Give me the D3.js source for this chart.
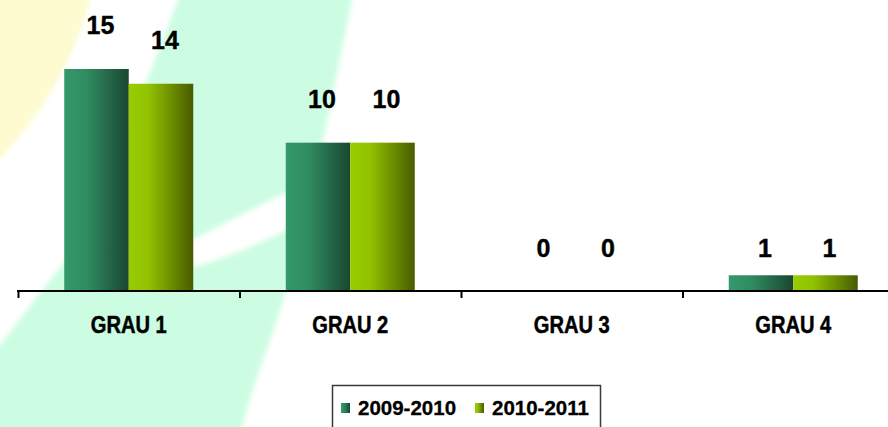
<!DOCTYPE html>
<html><head><meta charset="utf-8">
<script src="https://cdn.jsdelivr.net/npm/d3@7"></script>
<style>
html,body{margin:0;padding:0;background:#fff;}
svg{display:block;}
</style></head>
<body>
<script>
const categories = ["GRAU 1", "GRAU 2", "GRAU 3", "GRAU 4"];
const seriesNames = ["2009-2010", "2010-2011"];
const values2009 = [15, 10, 0, 1];
const values2010 = [14, 10, 0, 1];
const yMax = 20;

const W = 888, H = 427;
const svg = d3.select("body").append("svg").attr("width", W).attr("height", H);
const defs = svg.append("defs");

// gradients
const grads = [
  {id: "g0", stops: [["0%", "#34996b"], ["35%", "#2f8c61"], ["100%", "#1a4631"]]},
  {id: "g1", stops: [["0%", "#99cc00"], ["30%", "#92c300"], ["100%", "#485b00"]]}
];
grads.forEach(g => {
  const lg = defs.append("linearGradient").attr("id", g.id).attr("x1", "0").attr("x2", "1").attr("y1", "0").attr("y2", "0");
  g.stops.forEach(s => lg.append("stop").attr("offset", s[0]).attr("stop-color", s[1]));
});
defs.append("filter").attr("id", "soft").attr("x", "-10%").attr("y", "-10%").attr("width", "120%").attr("height", "120%")
  .append("feGaussianBlur").attr("stdDeviation", 2.5);

// decorative background
const bg = svg.append("g").attr("filter", "url(#soft)");
bg.append("path").attr("fill", "#fdfbcf")
  .attr("d", "M-10,-10 L92,-10 L90,0 C77,50 47,110 0,158 L-10,163 Z");
bg.append("path").attr("fill", "#ccfde2")
  .attr("d", "M178,-10 L354,-10 L352,0 C340,60 325,130 315,180 C300,240 285,300 270,340 C258,375 248,400 240,437 L-10,437 L-10,350 L0,345 C20,320 45,285 65,262 C100,200 140,100 178,0 Z");
bg.append("path").attr("fill", "#ffffff")
  .attr("d", "M345,165 C300,185 240,215 193,240 C150,255 110,250 80,240 L70,262 C120,272 160,272 193,267 C240,255 300,225 345,197 Z");

const y0 = 290, pxPerUnit = 14.733;
const y = d3.scaleLinear().domain([0, yMax]).range([y0, y0 - yMax * pxPerUnit]);
const x = d3.scaleBand().domain(categories).range([18, 904]).padding(0);
const xs = d3.scaleBand().domain(seriesNames).range([0, x.bandwidth()]).paddingInner(0).paddingOuter(0.717);

const data = categories.map((c, i) => ({cat: c, vals: [values2009[i], values2010[i]]}));

const groups = svg.append("g").selectAll("g").data(data).join("g")
  .attr("transform", d => `translate(${x(d.cat)},0)`);

groups.selectAll("rect").data(d => d.vals.map((v, k) => ({v, s: seriesNames[k], k}))).join("rect")
  .attr("x", d => xs(d.s))
  .attr("width", xs.bandwidth())
  .attr("y", d => y(d.v))
  .attr("height", d => y(0) - y(d.v))
  .attr("fill", d => `url(#g${d.k})`);

groups.selectAll("text.val").data(d => d.vals.map((v, k) => ({v, s: seriesNames[k], k}))).join("text")
  .attr("class", "val")
  .attr("x", d => xs(d.s) + xs.bandwidth() / 2 + 4)
  .attr("y", d => d.v < 2 ? y(0) - 33 : y(d.v) - 35)
  .attr("text-anchor", "middle")
  .attr("font-family", "'Liberation Sans', Arial, sans-serif")
  .attr("font-weight", "bold")
  .attr("font-size", 25)
  .attr("fill", "#000")
  .attr("stroke", "#000").attr("stroke-width", 0.4)
  .text(d => d.v);

// axis
const ax = svg.append("g");
ax.append("line").attr("x1", 17).attr("x2", W).attr("y1", y0 + 1).attr("y2", y0 + 1)
  .attr("stroke", "#000").attr("stroke-width", 2);
const bounds = categories.map(c => x(c)).concat([x.range()[1]]);
ax.selectAll("line.tick").data(bounds).join("line").attr("class", "tick")
  .attr("x1", d => d + 0.5).attr("x2", d => d + 0.5)
  .attr("y1", y0).attr("y2", y0 + 8)
  .attr("stroke", "#000").attr("stroke-width", 2);
ax.selectAll("text.cat").data(categories).join("text").attr("class", "cat")
  .attr("x", d => x(d) + x.bandwidth() / 2)
  .attr("y", 333)
  .attr("text-anchor", "middle")
  .attr("font-family", "'Liberation Sans', Arial, sans-serif")
  .attr("font-weight", "bold")
  .attr("font-size", 24)
  .attr("textLength", 76)
  .attr("lengthAdjust", "spacingAndGlyphs")
  .attr("fill", "#000")
  .attr("stroke", "#000").attr("stroke-width", 0.5)
  .text(d => d);

// legend
const lg = svg.append("g");
lg.append("rect").attr("x", 332.5).attr("y", 385.5).attr("width", 268).attr("height", 60)
  .attr("fill", "#fff").attr("stroke", "#3a3a3a").attr("stroke-width", 1.5);
const legX = [341, 475];
seriesNames.forEach((s, k) => {
  lg.append("rect").attr("x", legX[k]).attr("y", 403).attr("width", 9).attr("height", 10)
    .attr("fill", `url(#g${k})`);
  lg.append("text").attr("x", legX[k] + 17).attr("y", 415)
    .attr("font-family", "'Liberation Sans', Arial, sans-serif")
    .attr("font-weight", "bold").attr("font-size", 20.5).attr("fill", "#000")
    .attr("stroke", "#000").attr("stroke-width", 0.3)
    .text(s);
});
</script>
</body></html>
